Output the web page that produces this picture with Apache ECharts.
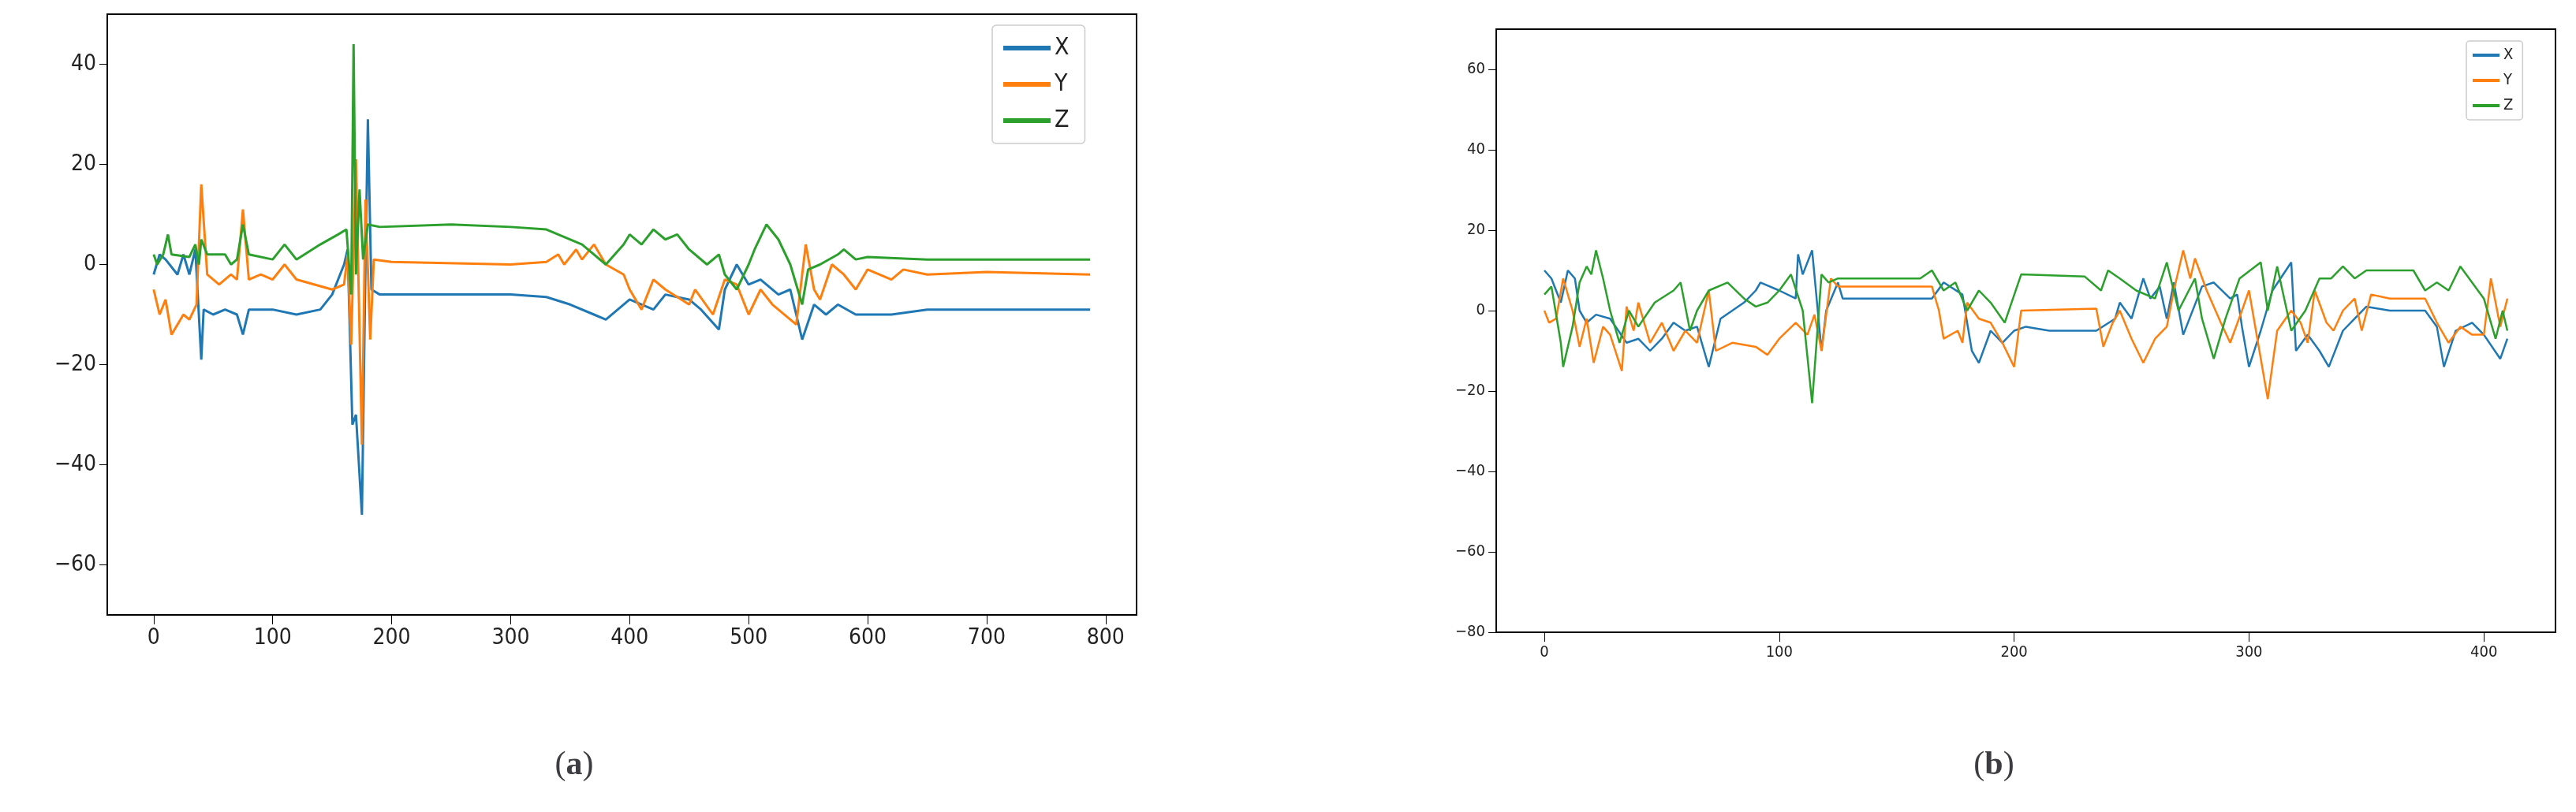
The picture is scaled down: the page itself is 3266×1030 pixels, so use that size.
<!DOCTYPE html>
<html>
<head>
<meta charset="utf-8" />
<title>XYZ</title>
<script src="https://cdn.jsdelivr.net/npm/echarts@6/dist/echarts.min.js"></script>
<style>html,body{margin:0;padding:0;background:#fff;}</style>
</head>
<body>
<div id="chart" style="width:3266px;height:1030px;"></div>
<script type="text/javascript">
// panel (a)
var aX = [[0,-2],[5,2],[10,1],[20,-2],[25,2],[30,-2],[35,3],[40,-19],[42,-9],[50,-10],[60,-9],[70,-10],[75,-14],[80,-9],[100,-9],[120,-10],[140,-9],[150,-6],[160,0],[163,3],[167,-32],[170,-30],[175,-50],[178,0],[180,29],[183,-5],[190,-6],[300,-6],[330,-6.5],[350,-8],[370,-10],[380,-11],[390,-9],[400,-7],[420,-9],[430,-6],[450,-7],[460,-9],[475,-13],[480,-5],[490,0],[500,-4],[510,-3],[525,-6],[535,-5],[545,-15],[555,-8],[565,-10],[575,-8],[590,-10],[620,-10],[650,-9],[787,-9]];
var aY = [[0,-5],[5,-10],[10,-7],[15,-14],[25,-10],[30,-11],[36,-8],[40,16],[45,-2],[55,-4],[65,-2],[70,-3],[75,11],[80,-3],[90,-2],[100,-3],[110,0],[120,-3],[150,-5],[160,-4],[163,2],[166,-16],[170,21],[175,-36],[178,13],[182,-15],[185,1],[200,0.5],[300,0],[330,0.5],[340,2],[345,0],[355,3],[360,1],[370,4],[380,0],[395,-2],[400,-5],[410,-9],[420,-3],[430,-5],[450,-8],[455,-5],[470,-10],[480,-3],[490,-4],[500,-10],[510,-5],[520,-8],[540,-12],[548,4],[555,-5],[560,-7],[570,0],[580,-2],[590,-5],[600,-1],[620,-3],[630,-1],[650,-2],[700,-1.5],[787,-2]];
var aZ = [[0,2],[3,0],[8,2],[12,6],[15,2],[30,1.5],[35,4],[38,0],[40,5],[45,2],[60,2],[65,0],[70,1],[75,8],[80,2],[100,1],[110,4],[120,1],[140,4],[155,6],[162,7],[166,-6],[168,44],[170,-2],[173,15],[176,1],[180,8],[190,7.5],[250,8],[300,7.5],[330,7],[360,4],[380,0],[395,4],[400,6],[410,4],[420,7],[430,5],[440,6],[450,3],[465,0],[475,2],[480,-2],[490,-5],[500,0],[505,3],[515,8],[525,5],[535,0],[545,-8],[550,-1],[560,0],[575,2],[580,3],[590,1],[600,1.5],[650,1],[787,1]];
// panel (b)
var bX = [[0,10],[3,8],[7,2],[10,10],[13,8],[15,0],[18,-3],[22,-1],[28,-2],[35,-8],[40,-7],[45,-10],[50,-7],[55,-3],[60,-5],[65,-4],[70,-14],[75,-2],[85,2],[90,5],[92,7],[100,5],[107,3],[108,14],[110,9],[114,15],[118,-10],[120,0],[125,7],[127,3],[165,3],[170,7],[178,4],[182,-10],[185,-13],[190,-5],[195,-8],[200,-5],[205,-4],[215,-5],[235,-5],[243,-2],[245,2],[250,-2],[255,8],[258,3],[262,6],[265,-2],[268,7],[272,-6],[280,6],[285,7],[292,3],[295,4],[297,-4],[300,-14],[305,-5],[310,5],[318,12],[320,-10],[325,-6],[330,-10],[334,-14],[340,-5],[345,-2],[350,1],[360,0],[375,0],[380,-4],[383,-14],[388,-5],[395,-3],[400,-6],[407,-12],[410,-7]];
var bY = [[0,0],[2,-3],[5,-2],[8,8],[12,0],[15,-9],[18,-2],[21,-13],[25,-4],[28,-6],[33,-15],[35,1],[38,-5],[40,2],[45,-8],[50,-3],[55,-10],[60,-5],[65,-8],[70,5],[73,-10],[80,-8],[90,-9],[95,-11],[100,-7],[107,-3],[112,-6],[115,-1],[118,-10],[122,8],[125,6],[165,6],[168,0],[170,-7],[176,-5],[178,-8],[180,2],[185,-2],[190,-3],[195,-8],[200,-14],[203,0],[235,0.5],[238,-9],[242,-3],[245,0],[250,-7],[255,-13],[260,-7],[265,-4],[268,5],[272,15],[275,8],[277,13],[282,5],[288,-3],[292,-8],[297,0],[300,5],[308,-22],[312,-5],[318,0],[322,-3],[325,-8],[328,5],[333,-3],[336,-5],[340,0],[345,3],[348,-5],[352,4],[360,3],[375,3],[380,-3],[385,-8],[390,-4],[395,-6],[400,-6],[403,8],[407,-4],[410,3]];
var bZ = [[0,4],[3,6],[7,-8],[8,-14],[12,-4],[15,7],[18,11],[20,9],[22,15],[25,8],[28,0],[32,-8],[36,0],[40,-4],[47,2],[55,5],[58,7],[62,-5],[65,0],[70,5],[78,7],[85,3],[90,1],[95,2],[100,5],[105,9],[110,0],[114,-23],[118,9],[121,7],[125,8],[160,8],[165,10],[170,5],[175,7],[180,0],[185,5],[190,2],[196,-3],[203,9],[230,8.5],[237,5],[240,10],[245,8],[252,5],[260,3],[265,12],[270,0],[277,8],[280,-2],[285,-12],[290,-2],[296,8],[305,12],[308,0],[312,11],[318,-5],[324,0],[330,8],[335,8],[340,11],[345,8],[350,10],[370,10],[375,5],[380,7],[385,5],[390,11],[400,3],[405,-7],[408,0],[410,-5]];
var aXTicks = [0,100,200,300,400,500,600,700,800];
var aYTicks = [-60,-40,-20,0,20,40];
var bXTicks = [0,100,200,300,400];
var bYTicks = [-80,-60,-40,-20,0,20,40,60];
var names = ['X','Y','Z'];
var colors = ['#1f77b4','#ff7f0e','#2ca02c'];

var font = "'Liberation Sans Narrow','DejaVu Sans Condensed','DejaVu Sans',sans-serif";
function fmt(v){ return String(v).replace('-', '\u2212'); }
function xAxis(idx, min, max, ticks, size){
	return {type:'value', gridIndex:idx, min:min, max:max,
		axisLine:{show:true, onZero:false, lineStyle:{color:'#000', width:2}},
		axisTick:{show:true, length:12, customValues:ticks, lineStyle:{color:'#000'}},
		axisLabel:{customValues:ticks, formatter:fmt, fontSize:size, color:'#222', fontFamily:font, margin:16},
		splitLine:{show:false}};
}
function yAxis(idx, min, max, ticks, size){
	return {type:'value', gridIndex:idx, min:min, max:max,
		axisLine:{show:true, onZero:false, lineStyle:{color:'#000', width:2}},
		axisTick:{show:true, length:10, customValues:ticks, lineStyle:{color:'#000'}},
		axisLabel:{customValues:ticks, formatter:fmt, fontSize:size, color:'#222', fontFamily:font, margin:14},
		splitLine:{show:false}};
}
var panels = [[aX,aY,aZ],[bX,bY,bZ]];
var series = [];
for (var p = 0; p < 2; p++){
	for (var k = 0; k < 3; k++){
		series.push({name:names[k], type:'line', xAxisIndex:p, yAxisIndex:p, data:panels[p][k],
			showSymbol:false, symbol:'none', lineStyle:{color:colors[k], width:p==0?3:2.5}, itemStyle:{color:colors[k]}, z:2});
	}
}
var myChart = echarts.init(document.getElementById('chart'));
var option = {
	animation:false,
	color:colors,
	grid:[
		{left:136, top:18, width:1305, height:762, show:true, borderColor:'#000', borderWidth:2},
		{left:1897, top:37, width:1343, height:765, show:true, borderColor:'#000', borderWidth:2}
	],
	xAxis:[xAxis(0,-39,826,aXTicks,28), xAxis(1,-20.5,430.5,bXTicks,20)],
	yAxis:[yAxis(0,-70,50,aYTicks,28), yAxis(1,-80,70,bYTicks,20)],
	legend:[
		{left:1258, top:32, orient:'vertical', itemWidth:60, itemHeight:6, itemGap:16, padding:[14,20,14,14],
			borderColor:'#ccc', borderWidth:1.5, borderRadius:5, backgroundColor:'#fff',
			textStyle:{fontSize:30, fontFamily:font, color:'#222'}, icon:'rect', data:names},
		{left:3127, top:52, orient:'vertical', itemWidth:34, itemHeight:4, itemGap:12, padding:[8,12,8,8],
			borderColor:'#ccc', borderWidth:1.5, borderRadius:4, backgroundColor:'#fff',
			textStyle:{fontSize:20, fontFamily:font, color:'#222'}, icon:'rect', data:names}
	],
	title:[
		{text:'({b|a})', left:723, top:945, textAlign:'center', textStyle:{fontSize:42, fontWeight:'normal', fontFamily:'serif', rich:{b:{fontSize:42, fontWeight:'bold', fontFamily:'serif'}}}},
		{text:'({b|b})', left:2523, top:945, textAlign:'center', textStyle:{fontSize:42, fontWeight:'normal', fontFamily:'serif', rich:{b:{fontSize:42, fontWeight:'bold', fontFamily:'serif'}}}}
	],
	series:series
};
myChart.setOption(option);
</script>
</body>
</html>
